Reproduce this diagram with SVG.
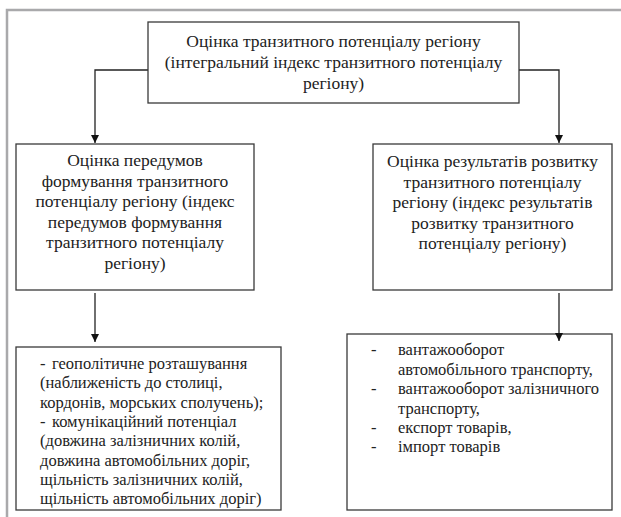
<svg xmlns="http://www.w3.org/2000/svg" width="621" height="517" viewBox="0 0 621 517">
<style>
.frame{fill:none;stroke:#a9a9ab;stroke-width:2.5}
.box{fill:#fff;stroke:#3a3a3a;stroke-width:1.3}
.conn{fill:none;stroke:#222;stroke-width:1.3}
.t{font-family:'Liberation Serif','Times New Roman',serif;font-size:17.5px;fill:#222}
.s{font-family:'Liberation Serif','Times New Roman',serif;font-size:16.5px;fill:#222}
.c{text-anchor:middle}
.e{text-anchor:end}
</style>
<defs>
<marker id="ah" viewBox="0 0 8 10" refX="8" refY="5" markerWidth="8" markerHeight="10" markerUnits="userSpaceOnUse" orient="auto">
<path d="M0,1 L8,5 L0,9 Z" fill="#111"/>
</marker>
</defs>
<rect width="621" height="517" fill="#fff"/>
<path class="frame" d="M7,517 V10 H621"/>
<g id="connectors">
<path class="conn" d="M148,70 H95 V143" marker-end="url(#ah)"/>
<path class="conn" d="M519,70 H559 V143" marker-end="url(#ah)"/>
<path class="conn" d="M95,293 V342" marker-end="url(#ah)"/>
</g>
<g id="top">
<rect class="box" x="148" y="22" width="371" height="81"/>
<text class="t c" x="333.5" y="47">Оцінка транзитного потенціалу регіону</text>
<text class="t c" x="333.5" y="68">(інтегральний індекс транзитного потенціалу</text>
<text class="t c" x="333.5" y="89">регіону)</text>
</g>
<g id="prereq">
<rect class="box" x="16" y="144" width="238" height="146"/>
<text class="t c" x="135" y="166">Оцінка передумов</text>
<text class="t c" x="135" y="186.5">формування транзитного</text>
<text class="t c" x="135" y="207">потенціалу регіону (індекс</text>
<text class="t c" x="135" y="227.5">передумов формування</text>
<text class="t c" x="135" y="248">транзитного потенціалу</text>
<text class="t c" x="135" y="268.5">регіону)</text>
</g>
<g id="results">
<rect class="box" x="373" y="144" width="239" height="146"/>
<text class="t c" x="492.5" y="167">Оцінка результатів розвитку</text>
<text class="t c" x="492.5" y="187.5">транзитного потенціалу</text>
<text class="t c" x="492.5" y="208">регіону (індекс результатів</text>
<text class="t c" x="492.5" y="228.5">розвитку транзитного</text>
<text class="t c" x="492.5" y="249">потенціалу регіону)</text>
</g>
<g id="prereq-list">
<rect class="box" x="16" y="347" width="265" height="163"/>
<text class="s" x="40" y="369">-</text><text class="s" x="52" y="369">геополітичне розташування</text>
<text class="s" x="40" y="388.3">(наближеність до столиці,</text>
<text class="s" x="40" y="407.6">кордонів, морських сполучень);</text>
<text class="s" x="40" y="426.9">-</text><text class="s" x="52" y="426.9">комунікаційний потенціал</text>
<text class="s" x="40" y="446.2">(довжина залізничних колій,</text>
<text class="s" x="40" y="465.5">довжина автомобільних доріг,</text>
<text class="s" x="40" y="484.8">щільність залізничних колій,</text>
<text class="s" x="40" y="504.1">щільність автомобільних доріг)</text>
</g>
<g id="results-list">
<rect class="box" x="347" y="334" width="265" height="176"/>
<text class="s" x="371" y="355">-</text>
<text class="s" x="398" y="355">вантажооборот</text>
<text class="s" x="398" y="374.5">автомобільного транспорту,</text>
<text class="s" x="371" y="394">-</text>
<text class="s" x="398" y="394">вантажооборот</text>
<text class="s e" x="599" y="394">залізничного</text>
<text class="s" x="398" y="413.5">транспорту,</text>
<text class="s" x="371" y="433">-</text>
<text class="s" x="398" y="433">експорт товарів,</text>
<text class="s" x="371" y="452">-</text>
<text class="s" x="398" y="452">імпорт товарів</text>
</g>
<g id="connectors-over">
<path class="conn" d="M559,293 V341" marker-end="url(#ah)"/>
</g>
</svg>
